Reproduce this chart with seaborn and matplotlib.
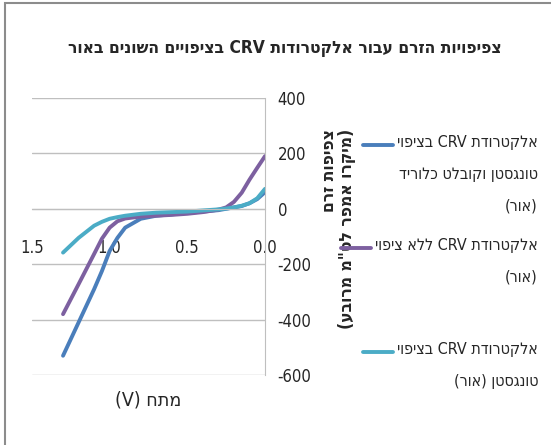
import re
import matplotlib
matplotlib.use("Agg")
import matplotlib.pyplot as plt
import pandas as pd
import seaborn as sns
from matplotlib.lines import Line2D
from matplotlib.patches import Rectangle

# voltage (V) and current density readings
voltage = [1.3, 1.2, 1.1, 1.05, 1.0, 0.95, 0.9, 0.8, 0.7, 0.6, 0.5, 0.4, 0.3, 0.25, 0.2, 0.15, 0.1, 0.05, 0.0]
w_cocl = [-530, -410, -290, -225, -152, -105, -68, -36, -25, -20, -15, -10, -5, 0, 5, 10, 20, 35, 60]
no_coat = [-380, -272, -163, -108, -68, -45, -35, -28, -25, -22, -18, -12, -3, 5, 25, 58, 105, 148, 190]
w_only = [-158, -105, -61, -47, -36, -30, -25, -18, -14, -12, -10, -6, -2, 1, 5, 11, 20, 38, 72]

series_names = [
    "אלקטרודת CRV בציפוי\nטונגסטן וקובלט כלוריד\n(אור)",
    "אלקטרודת CRV ללא ציפוי\n(אור)",
    "אלקטרודת CRV בציפוי\nטונגסטן (אור)",
]
colors = ["#4A7EBB", "#7D60A0", "#4BACC6"]

title = "צפיפויות הזרם עבור אלקטרודות CRV בציפויים השונים באור"
xlabel = "מתח (V)"
ylabel = "צפיפות זרם\n(מיקרו אמפר לס\"מ מרובע)"


def vis(s):
    # matplotlib has no bidi support, so flip each line into visual order
    lines = []
    for line in s.split("\n"):
        out = line[::-1]
        out = re.sub(r"[A-Za-z0-9.]+", lambda m: m.group(0)[::-1], out)
        lines.append(out.translate(str.maketrans("()", ")(")))
    return "\n".join(lines)


df = pd.concat([
    pd.DataFrame({"V": voltage, "J": vals, "s": name})
    for name, vals in zip(series_names, [w_cocl, no_coat, w_only])
])

sns.set_style("white")
plt.rcParams["font.family"] = ["DejaVu Sans"]
plt.rcParams["font.stretch"] = "condensed"
plt.rcParams["axes.unicode_minus"] = False

fig = plt.figure(figsize=(5.51, 4.45), dpi=100)
ax = fig.add_axes([0.058, 0.157, 0.423, 0.623])

sns.lineplot(data=df, x="V", y="J", hue="s", palette=colors, linewidth=2.8,
             sort=False, estimator=None, legend=False, ax=ax)

ax.set_xlim(1.5, 0.0)
ax.set_ylim(-600, 400)
ax.set_xticks([1.5, 1.0, 0.5, 0.0])
ax.set_xticklabels(["1.5", "1.0", "0.5", "0.0"])
ax.set_yticks(range(-600, 401, 200))
ax.yaxis.tick_right()
ax.grid(axis="y", color="#BFBFBF", linewidth=1)
ax.set_axisbelow(True)
for side in ["top", "left"]:
    ax.spines[side].set_visible(False)
ax.spines["right"].set_color("#BFBFBF")
ax.spines["bottom"].set_position(("data", 0))
ax.spines["bottom"].set_color("#BFBFBF")
ax.tick_params(axis="x", length=0, pad=22, labelsize=12)
ax.tick_params(axis="y", length=0, pad=9, labelsize=12)

ax.set_xlabel(vis(xlabel), fontsize=14, labelpad=0)
ax.xaxis.set_label_coords(0.5, -0.057)
ax.set_ylabel(vis(ylabel), fontsize=12.5, fontweight="bold", rotation=90,
              multialignment="right", linespacing=1.0)
ax.yaxis.set_label_position("right")
ax.yaxis.set_label_coords(1.235, 0.527)

fig.text(0.517, 0.892, vis(title), fontsize=12.5, fontweight="bold",
         ha="center", va="center")

# legend drawn by hand so the handle sits at the first line of each label
W, H = 551, 445
first_y = [145, 248, 352]
renderer = fig.canvas.get_renderer()
for name, col, y in zip(series_names, colors, first_y):
    fig.text(538 / W, 1 - (y - 10) / H, vis(name), fontsize=11.5, ha="right",
             va="top", linespacing=2.4, multialignment="right")
    probe = fig.text(538 / W, 0.5, vis(name.split("\n")[0]), fontsize=11.5,
                     ha="right")
    left = probe.get_window_extent(renderer).x0
    probe.remove()
    x1 = min(395, left - 4)
    fig.add_artist(Line2D([(x1 - 30) / W, x1 / W], [1 - y / H, 1 - y / H],
                          color=col, linewidth=2.8))

fig.add_artist(Rectangle((5 / W, -0.1), 1.2, 1 - 3 / H + 0.1,
                         fill=False, edgecolor="#8C8C8C", linewidth=1.5,
                         transform=fig.transFigure))

fig.savefig("out.png", dpi=100)
